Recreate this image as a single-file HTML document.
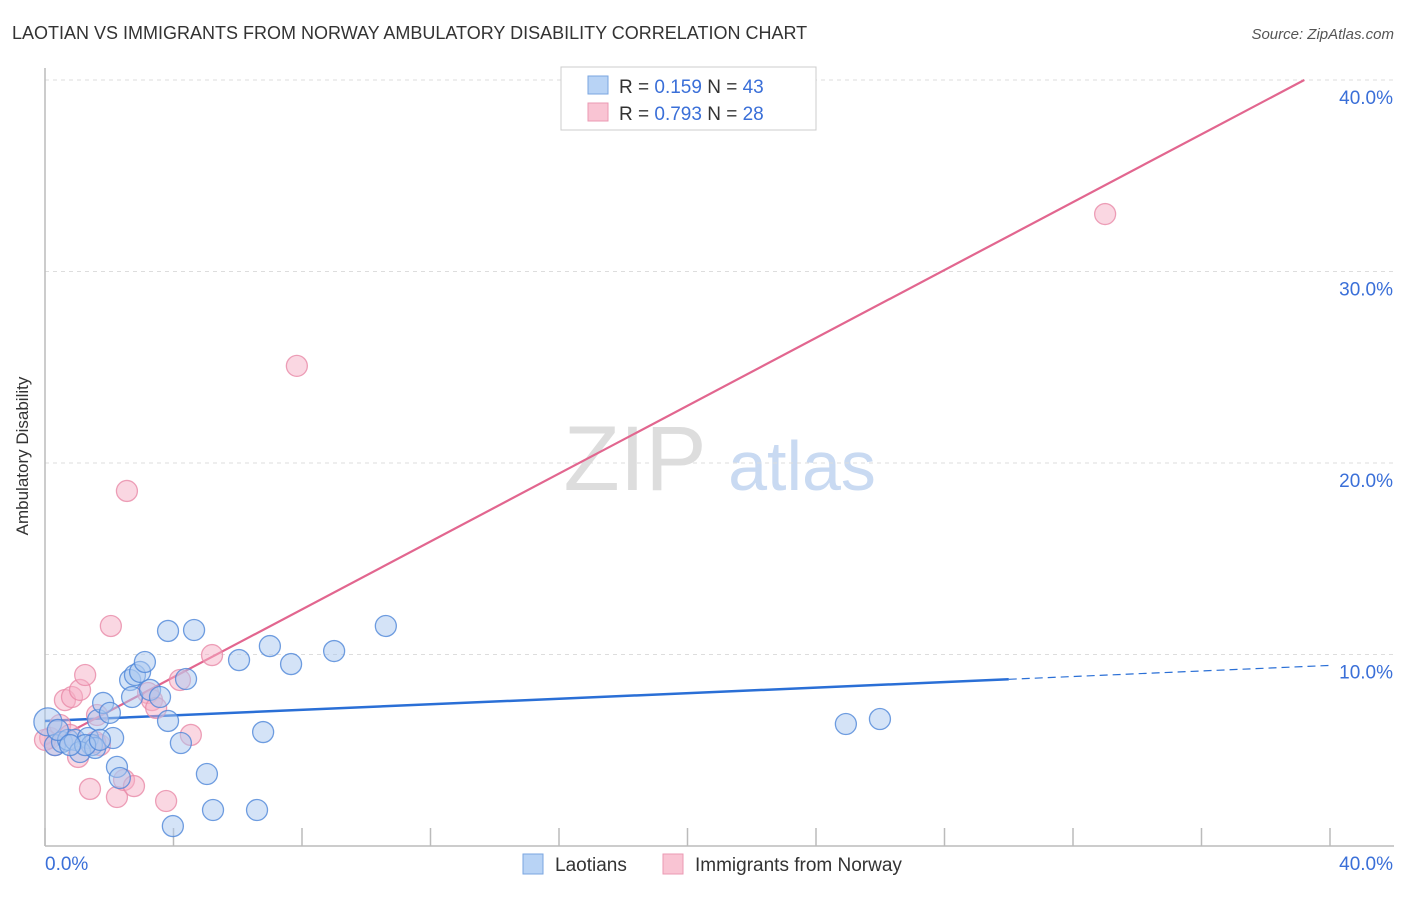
<!DOCTYPE html>
<html><head><meta charset="utf-8"><style>
body{margin:0;background:#fff;font-family:"Liberation Sans",sans-serif}
svg text{font-family:"Liberation Sans",sans-serif}
</style></head><body>
<svg id="chart" width="1406" height="892" xmlns="http://www.w3.org/2000/svg">
<text x="12" y="39" font-size="18" fill="#333">LAOTIAN VS IMMIGRANTS FROM NORWAY AMBULATORY DISABILITY CORRELATION CHART</text>
<text x="1394" y="39" font-size="15" fill="#555" font-style="italic" text-anchor="end">Source: ZipAtlas.com</text>
<text x="28" y="456" font-size="17" fill="#333" text-anchor="middle" transform="rotate(-90 28 456)">Ambulatory Disability</text>
<g>
<text x="635" y="490" font-size="92" fill="#ddd" font-family="Liberation Serif" text-anchor="middle">ZIP</text>
<text x="802" y="490" font-size="70" fill="#c9daf2" text-anchor="middle">atlas</text>
</g>
<g id="grid"></g><g id="axes"></g><g id="trends"></g><g id="pts"></g>
<g>
<rect x="561" y="67" width="255" height="63" fill="#fff" stroke="#ccc"/>
<rect x="588" y="76" width="20" height="18" fill="#b8d3f5" stroke="#7aa6e0"/>
<rect x="588" y="103" width="20" height="18" fill="#f9c4d3" stroke="#eb9ab3"/>
<text x="619" y="93" font-size="19" fill="#333">R = <tspan fill="#3a6fd8">0.159</tspan>   N = <tspan fill="#3a6fd8">43</tspan></text>
<text x="619" y="120" font-size="19" fill="#333">R = <tspan fill="#3a6fd8">0.793</tspan>   N = <tspan fill="#3a6fd8">28</tspan></text>
</g>
<g>
<rect x="523" y="854" width="20" height="20" fill="#b8d3f5" stroke="#7aa6e0"/>
<text x="555" y="871" font-size="19" fill="#333">Laotians</text>
<rect x="663" y="854" width="20" height="20" fill="#f9c4d3" stroke="#eb9ab3"/>
<text x="695" y="871" font-size="19" fill="#333">Immigrants from Norway</text>
</g>
</svg>
<script>
const blueX=[0.09,0.31,0.53,0.72,0.93,1.34,1.46,1.09,1.56,1.65,1.81,2.02,2.12,2.24,2.33,2.65,2.71,2.80,2.96,3.11,3.27,3.58,3.83,3.83,4.23,4.39,4.64,5.04,5.23,6.04,6.60,6.79,7.00,7.66,9.00,10.61,24.93,25.99,3.98,0.40,1.25,0.78,1.71];
const blueY=[6.48,5.27,5.43,5.54,5.54,5.64,5.27,4.91,5.12,6.58,7.47,6.95,5.64,4.13,3.55,8.67,7.78,8.93,9.09,9.61,8.15,7.78,11.23,6.53,5.38,8.72,11.28,3.76,1.88,9.71,1.88,5.95,10.44,9.50,10.18,11.49,6.37,6.63,1.04,6.06,5.27,5.27,5.54];
const pinkX=[0.16,0.31,0.47,0.62,0.84,1.09,1.25,1.40,1.62,1.71,1.03,2.05,2.24,2.46,2.55,2.77,3.21,3.33,3.46,3.77,4.20,4.54,5.20,7.84,33.00,0.78,0.0,1.56];
const pinkY=[5.64,5.27,6.32,7.62,7.78,8.15,8.93,2.98,6.84,5.27,4.65,11.49,2.56,3.45,18.54,3.13,7.99,7.62,7.21,2.35,8.67,5.80,9.97,25.07,33.00,5.80,5.54,5.43];
const blueTrend=[6.53,0.0725]; // intercept, slope
const pinkTrend=[5.27,0.886];
const yTicks=[10,20,30,40];
const yTickLabels=["10.0%","20.0%","30.0%","40.0%"];
const xTicks=[0,4,8,12,16,20,24,28,32,36,40];
const ns="http://www.w3.org/2000/svg";
const sx=v=>45+v*32.125, sy=v=>846-v*19.15;
function mk(tag,attrs,parent){const e=document.createElementNS(ns,tag);for(const k in attrs)e.setAttribute(k,attrs[k]);document.getElementById(parent).appendChild(e);return e;}
yTicks.forEach((t,i)=>{
 const l=mk('line',{x1:45,x2:1394,y1:sy(t),y2:sy(t),stroke:'#ddd','stroke-dasharray':'4,4'},'grid');
 
 
 const tx=mk('text',{x:1393,y:sy(t)+24,'font-size':19,fill:'#3a6fd8','text-anchor':'end'},'grid');
 tx.textContent=yTickLabels[i];
 
 
});
const ax=mk('line',{x1:45,x2:45,y1:68,y2:846,stroke:'#bbb','stroke-width':1.5},'axes');


const bx=mk('line',{x1:45,x2:1394,y1:846,y2:846,stroke:'#bbb','stroke-width':1.5},'axes');


xTicks.forEach(t=>{
 const l=mk('line',{x1:sx(t),x2:sx(t),y1:828,y2:846,stroke:'#bbb','stroke-width':1.5},'axes');
 
 
});
const xl0=mk('text',{x:45,y:870,'font-size':19,fill:'#3a6fd8'},'axes');xl0.textContent='0.0%';


const xl1=mk('text',{x:1393,y:870,'font-size':19,fill:'#3a6fd8','text-anchor':'end'},'axes');xl1.textContent='40.0%';


// trends
const b1=mk('line',{x1:sx(0),y1:sy(blueTrend[0]),x2:sx(30),y2:sy(blueTrend[0]+blueTrend[1]*30),stroke:'#2a6fd6','stroke-width':2.5},'trends');


const b2=mk('line',{x1:sx(30),y1:sy(blueTrend[0]+blueTrend[1]*30),x2:sx(40),y2:sy(blueTrend[0]+blueTrend[1]*40),stroke:'#2a6fd6','stroke-width':1.2,'stroke-dasharray':'8,5'},'trends');


const pEnd=(40-pinkTrend[0])/pinkTrend[1];
const p1=mk('line',{x1:sx(0),y1:sy(pinkTrend[0]),x2:sx(pEnd),y2:sy(40),stroke:'#e2668f','stroke-width':2.2},'trends');


function pts(X,Y,fill,stroke,name){X.forEach((x,i)=>{
 const c=mk('circle',{cx:sx(x),cy:sy(Y[i]),r:i===0&&name==='laotian-point'?14:10.5,fill:fill,'fill-opacity':0.5,stroke:stroke,'stroke-opacity':0.8,'stroke-width':1.3},'pts');
 
 
});}
pts(pinkX,pinkY,'#f5b0c5','#e88aa8','norway-point');
pts(blueX,blueY,'#a9c8f0','#4d86d8','laotian-point');
</script>
</body></html>
